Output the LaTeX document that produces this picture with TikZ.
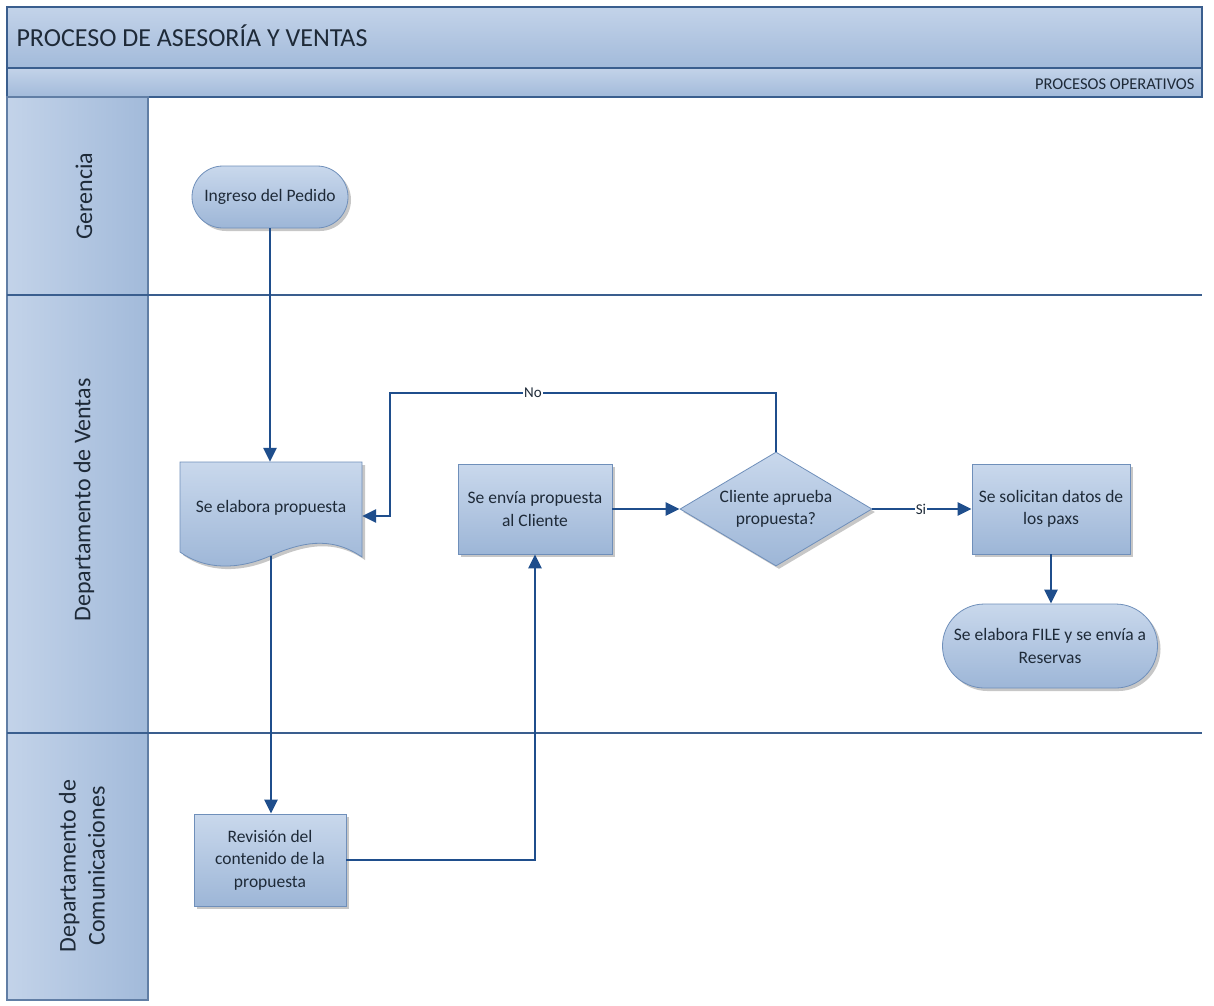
\documentclass[tikz,border=0pt]{standalone}
\usepackage{fontspec}
\setmainfont{Carlito}
\usetikzlibrary{arrows.meta,shapes.geometric,shadows,calc}
\definecolor{ln}{HTML}{1F4E8C}
\definecolor{nodetop}{HTML}{C9D8EC}
\definecolor{nodebot}{HTML}{9DB6D7}
\definecolor{nodeborder}{HTML}{6F8FBA}
\definecolor{bandtop}{HTML}{C3D3E9}
\definecolor{bandbot}{HTML}{A2BADA}
\definecolor{frame}{HTML}{3A5E8E}
\definecolor{txt}{HTML}{1E2A38}
\begin{document}
\begin{tikzpicture}[x=1pt,y=-1pt,
  shad/.style={drop shadow={shadow xshift=3pt,shadow yshift=-3pt,fill=black,opacity=0.22}},
  box/.style={rectangle,draw=nodeborder,line width=0.8pt,top color=nodetop,bottom color=nodebot,
    shad,align=center,text=txt,font=\fontsize{17.5}{22.5}\selectfont,inner sep=2pt},
  term/.style={box},
  dec/.style={diamond,draw=nodeborder,line width=0.8pt,top color=nodetop,bottom color=nodebot,
    shad,align=center,text=txt,font=\fontsize{17.5}{22.5}\selectfont,inner sep=0pt},
  flow/.style={draw=ln,line width=2.6pt,-{Triangle[length=14pt,width=13pt]}},
  lbl/.style={fill=white,inner sep=1pt,text=txt,font=\fontsize{15}{17}\selectfont},
  lane/.style={text=txt,font=\fontsize{24}{29}\selectfont,rotate=90,align=center},
  sep/.style={draw=frame,line width=1.8pt}
]
\useasboundingbox (0,0) rectangle (1214,1005);
\fill[white] (0,0) rectangle (1214,1005);

% header bands
\path[top color=bandtop,bottom color=bandbot,draw=frame,line width=1.5pt] (7,7) rectangle (1202,68);
\path[top color=bandtop,bottom color=bandbot,draw=frame,line width=1.5pt] (7,68) rectangle (1202,97);
\node[anchor=west,text=txt,font=\fontsize{26}{30}\selectfont] (title) at (13,36) {PROCESO DE ASESORÍA Y VENTAS};
\node[anchor=east,text=txt,font=\fontsize{16.5}{19}\selectfont] (sub) at (1198,84) {PROCESOS OPERATIVOS};

% lane label column
\path[left color=bandtop,right color=bandbot,draw=frame!80,line width=1.2pt] (7,97) rectangle (148,1000);
\draw[sep] (7,295) -- (1202,295);
\draw[sep] (7,733) -- (1202,733);
\node[lane] (l1) at (84,196) {Gerencia};
\node[lane] (l2) at (84,500) {Departamento de Ventas};
\node[lane] (l3) at (82,866) {Departamento de\\Comunicaciones};

% nodes
\node[term,rounded corners=31pt,minimum width=156pt,minimum height=62pt] (ing) at (270,197) {Ingreso del Pedido};

\path[top color=nodetop,bottom color=nodebot,draw=nodeborder,line width=0.8pt,shad]
  (180,462) -- (362,462) -- (362,557)
  .. controls (330,535) and (300,543) .. (270,556)
  .. controls (238,570) and (205,570) .. (180,552) -- cycle;
\node[align=center,text=txt,font=\fontsize{17.5}{22.5}\selectfont,minimum width=182pt,minimum height=94pt,inner sep=0pt] (doc) at (271,509) {\raisebox{6pt}{Se elabora propuesta}};

\node[box,minimum width=154pt,minimum height=90pt] (env) at (535,509) {Se envía propuesta\\al Cliente};
\node[dec,minimum width=192pt,minimum height=114pt,aspect=1.68] (dia) at (776,509) {Cliente aprueba\\propuesta?};
\node[box,minimum width=158pt,minimum height=90pt] (sol) at (1051,509) {Se solicitan datos de\\los paxs};
\node[term,rounded corners=42pt,minimum width=215pt,minimum height=84pt] (fil) at (1050,646) {Se elabora FILE y se envía a\\Reservas};
\node[box,minimum width=152pt,minimum height=92pt] (rev) at (270,860) {Revisión del\\contenido de la\\propuesta};

% connectors
\draw[flow] (ing.south) -- (ing.south |- doc.north);
\coordinate (nocorner) at (390,393);
\draw[flow] (dia.north) |- (nocorner) |- ($(doc.east)+(0,7)$);
\node[lbl] (nolbl) at (533,393) {No};
\draw[flow] (doc.south) -- (doc.south |- rev.north);
\draw[flow] (rev.east) -| (env.south);
\draw[flow] (env.east) -- (dia.west);
\draw[flow] (dia.east) -- (sol.west);
\node[lbl] (silbl) at (921,509) {Si};
\draw[flow] (sol.south) -- (sol.south |- fil.north);
\end{tikzpicture}
\end{document}
